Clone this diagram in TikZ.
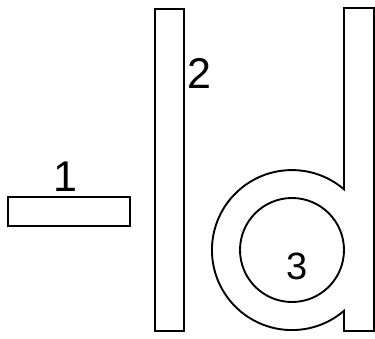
\documentclass[tikz,border=0pt]{standalone}
\usepackage{fontspec}
\setmainfont{Liberation Sans}
\usepackage{tikz}
\usetikzlibrary{positioning}
\tikzset{
  part/.style={draw=black,line width=1.9pt,fill=white},
  num/.style={inner sep=0pt,font=\fontsize{43}{43}\selectfont},
  smallnum/.style={num,font=\fontsize{38}{38}\selectfont}}

\begin{document}
\begin{tikzpicture}[x=1pt,y=-1pt]
\useasboundingbox (0,0) rectangle (375,338);
% flat bar and tall bar
\draw[part] (8,197) rectangle (130,226);
\draw[part] (155,9) rectangle (184,331);
% the d-shaped piece
\draw[part] (344,189.2) -- (344,8) -- (374,8) -- (374,331) -- (344,331) -- (344,310.8)
  arc[start angle=49.4,end angle=310.6,radius=80] -- cycle;
\draw[part] (292,250) circle[radius=52];
\node[num] (one) at (65,177) {1};
\node[num] (two) at (199,73) {2};
\node[smallnum] (three) at (297,266) {3};
\end{tikzpicture}
\end{document}
